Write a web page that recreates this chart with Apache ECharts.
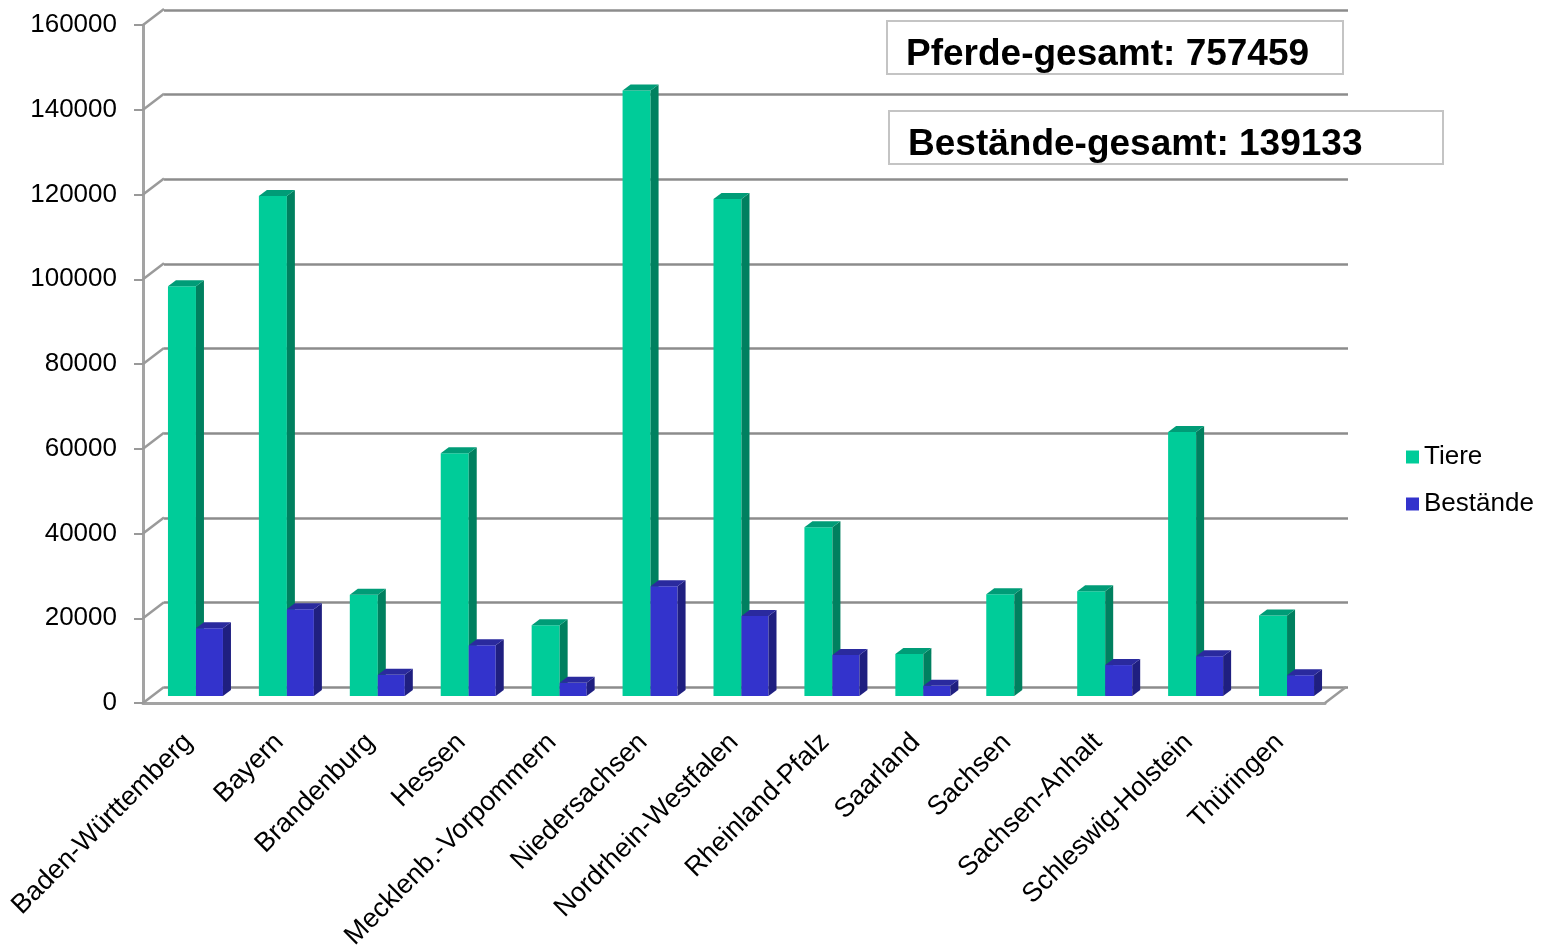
<!DOCTYPE html>
<html>
<head>
<meta charset="utf-8">
<script src="https://cdn.jsdelivr.net/npm/echarts@6.0.0/dist/echarts.min.js"></script>
<style>
  html, body { margin: 0; padding: 0; background: #fff; }
  #chart { width: 1549px; height: 947px; }
</style>
</head>
<body>
<div id="chart"></div>
<script>
const laender = ['Baden-Württemberg', 'Bayern', 'Brandenburg', 'Hessen', 'Mecklenb.-Vorpommern',
  'Niedersachsen', 'Nordrhein-Westfalen', 'Rheinland-Pfalz', 'Saarland', 'Sachsen',
  'Sachsen-Anhalt', 'Schleswig-Holstein', 'Thüringen']
const tiere = [96700, 118000, 23900, 57300, 16700, 142900, 117300, 39800, 9900, 24000, 24700, 62300, 19000]
const bestaende = [16000, 20500, 5000, 12000, 3100, 25900, 18900, 9700, 2400, null, 7300, 9400, 4900]
const yTicks = [0, 20000, 40000, 60000, 80000, 100000, 120000, 140000, 160000]
const pferdeGesamt = 757459
const bestaendeGesamt = 139133

// fake 3d: back wall offset, bar depth
const WALL = [21, -16]
const LIFT = -7
const DX = 8, DY = -6

const chart = echarts.init(document.getElementById('chart'))

function box3d(offsetX, width, face, side, top) {
  return function (params, api) {
    const v = api.value(1)
    if (v == null || isNaN(v)) return
    const base = api.coord([api.value(0), 0])
    const tip = api.coord([api.value(0), v])
    const x0 = base[0] + offsetX
    const x1 = x0 + width
    const yb = base[1] + LIFT
    const yt = tip[1] + LIFT
    return {
      type: 'group',
      children: [
        { type: 'rect', shape: { x: x0, y: yt, width: width, height: yb - yt }, style: { fill: face } },
        { type: 'polygon', shape: { points: [[x1, yt], [x1 + DX, yt + DY], [x1 + DX, yb + DY], [x1, yb]] }, style: { fill: side } },
        { type: 'polygon', shape: { points: [[x0, yt], [x0 + DX, yt + DY], [x1 + DX, yt + DY], [x1, yt]] }, style: { fill: top } }
      ]
    }
  }
}

function wallEdge(params, api) {
  const p = api.coord([0, api.value(1)])
  const cs = params.coordSys
  const lines = [{ type: 'line', shape: { x1: cs.x, y1: p[1], x2: cs.x + WALL[0], y2: p[1] + WALL[1] },
    style: { stroke: '#9a9a9a', lineWidth: 2.5 } }]
  if (api.value(1) === 0) {
    const xr = cs.x + cs.width
    lines.push({ type: 'line', shape: { x1: xr, y1: p[1], x2: xr + WALL[0], y2: p[1] + WALL[1] },
      style: { stroke: '#9a9a9a', lineWidth: 2.5 } })
  }
  return { type: 'group', children: lines }
}

const font = 'Arial, "Liberation Sans", sans-serif'

const option = {
  animation: false,
  textStyle: { fontFamily: font },
  grid: [
    { left: 143, right: 224, top: 25, bottom: 244, containLabel: false, outerBoundsMode: 'none' },
    { left: 143 + WALL[0], right: 224 - WALL[0] - 2, top: 25 + WALL[1] + 1, bottom: 244 - WALL[1],
      containLabel: false, outerBoundsMode: 'none' }
  ],
  xAxis: [
    {
      type: 'category', gridIndex: 0, data: laender,
      axisLine: { lineStyle: { color: '#a3a3a3', width: 3 } },
      axisTick: { length: 9, lineStyle: { color: '#999', width: 2 } },
      axisLabel: { rotate: 45, interval: 0, margin: 35, fontSize: 27, color: '#000', fontFamily: font },
      splitLine: { show: false }
    },
    { type: 'category', gridIndex: 1, data: laender, show: false }
  ],
  yAxis: [
    {
      type: 'value', gridIndex: 0, min: 0, max: 160000, interval: 20000,
      axisLine: { show: true, lineStyle: { color: '#a3a3a3', width: 3 } },
      axisTick: { show: true, length: 9, lineStyle: { color: '#999', width: 2 } },
      axisLabel: { margin: 26, fontSize: 26, color: '#000', fontFamily: font, formatter: v => String(v) },
      splitLine: { show: false }
    },
    {
      type: 'value', gridIndex: 1, min: 0, max: 160000, interval: 20000,
      axisLine: { show: false }, axisTick: { show: false }, axisLabel: { show: false },
      splitLine: { show: true, lineStyle: { color: '#8c8c8c', width: 2.5 } }
    }
  ],
  legend: {
    data: ['Tiere', 'Bestände'],
    orient: 'vertical', left: 1406, top: 444, padding: 0,
    icon: 'rect', itemWidth: 13, itemHeight: 13, itemGap: 21,
    textStyle: { fontSize: 26, lineHeight: 25, color: '#000', fontFamily: font }
  },
  series: [
    {
      type: 'custom', name: 'wall', xAxisIndex: 0, yAxisIndex: 0, z: 1, silent: true,
      renderItem: wallEdge,
      data: yTicks.map(v => [0, v])
    },
    {
      type: 'custom', name: 'Tiere', xAxisIndex: 0, yAxisIndex: 0, z: 3,
      itemStyle: { color: '#00CC99' },
      renderItem: box3d(-20.5, 28, '#00CC99', '#00805F', '#009C77'),
      data: tiere.map((v, i) => [i, v])
    },
    {
      type: 'custom', name: 'Bestände', xAxisIndex: 0, yAxisIndex: 0, z: 4,
      itemStyle: { color: '#3333CC' },
      renderItem: box3d(7.5, 27, '#3333CC', '#1F1F80', '#2A2A9E'),
      data: bestaende.map((v, i) => [i, v])
    }
  ],
  graphic: [
    { type: 'rect', left: 886, top: 20, shape: { width: 456, height: 53 },
      style: { fill: '#fff', stroke: '#c4c4c4', lineWidth: 2 }, z: 10 },
    { type: 'text', x: 906, y: 55, z: 11,
      style: { text: 'Pferde-gesamt: ' + pferdeGesamt, font: 'bold 37px ' + font, fill: '#000', verticalAlign: 'middle' } },
    { type: 'rect', left: 888, top: 110, shape: { width: 554, height: 53 },
      style: { fill: '#fff', stroke: '#c4c4c4', lineWidth: 2 }, z: 10 },
    { type: 'text', x: 908, y: 145, z: 11,
      style: { text: 'Bestände-gesamt: ' + bestaendeGesamt, font: 'bold 37px ' + font, fill: '#000', verticalAlign: 'middle' } }
  ]
}

chart.setOption(option)
</script>
</body>
</html>
